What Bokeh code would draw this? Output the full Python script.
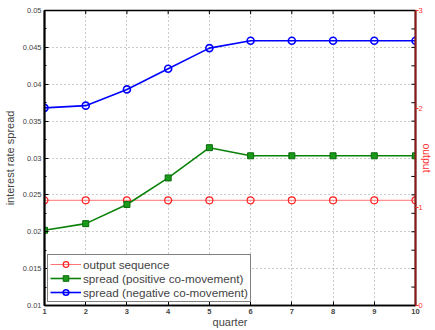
from bokeh.plotting import figure
from bokeh.models import (Range1d, LinearAxis, SingleIntervalTicker, FixedTicker,
                          CustomJSTickFormatter, Legend, LegendItem)
from bokeh.embed import file_html
from bokeh.resources import INLINE
import numpy as np

# quarters on the horizontal axis
quarters = [1, 2, 3, 4, 5, 6, 7, 8, 9, 10]
# output path (plotted against the right-hand "output" axis)
output_seq = [1.07, 1.07, 1.07, 1.07, 1.07, 1.07, 1.07, 1.07, 1.07, 1.07]
# interest rate spread under the two co-movement cases
spread_pos = [0.0202, 0.0211, 0.0237, 0.0273, 0.0314, 0.0303, 0.0303, 0.0303, 0.0303, 0.0303]
spread_neg = [0.0368, 0.0371, 0.0393, 0.0421, 0.0449, 0.0459, 0.0459, 0.0459, 0.0459, 0.0459]

FONT = "Liberation Sans"

p = figure(width=435, height=330, output_backend="svg", toolbar_location=None,
           x_range=Range1d(1, 10), y_range=Range1d(0.01, 0.05),
           min_border_left=43, min_border_right=17, min_border_top=10, min_border_bottom=24)
p.outline_line_color = "black"
p.outline_line_width = 1.5
p.background_fill_color = "white"
p.border_fill_color = "white"
p.extra_y_ranges = {"out": Range1d(0, 3)}

# bottom axis
xa = p.xaxis[0]
xa.ticker = FixedTicker(ticks=quarters)
xa.axis_label = "quarter"
xa.axis_label_text_font = FONT
xa.axis_label_text_font_style = "normal"
xa.axis_label_text_font_size = "11px"
xa.axis_label_standoff = -1
xa.major_label_text_font = FONT
xa.major_label_text_font_size = "7.5px"
xa.major_label_text_font_style = "bold"
xa.major_label_standoff = 3
xa.major_tick_in = 4
xa.major_tick_out = 0
xa.minor_tick_line_color = None
xa.axis_line_width = 1.5

# left axis
ya = p.yaxis[0]
ya.ticker = SingleIntervalTicker(interval=0.005, num_minor_ticks=2)
ya.formatter = CustomJSTickFormatter(code="return String(+tick.toFixed(4));")
ya.axis_label = "interest rate spread"
ya.axis_label_text_font = FONT
ya.axis_label_text_font_style = "normal"
ya.axis_label_text_font_size = "11px"
ya.axis_label_standoff = 4
ya.major_label_text_font = FONT
ya.major_label_text_font_size = "7.5px"
ya.major_label_text_color = "#444444"
ya.major_label_standoff = 3
ya.major_tick_in = 4
ya.major_tick_out = 0
ya.minor_tick_in = 2
ya.minor_tick_out = 0
ya.axis_line_width = 2

# right axis for output
ra = LinearAxis(y_range_name="out", ticker=FixedTicker(ticks=[0, 1, 2, 3]),
                axis_label="output")
ra.axis_label_text_color = "#ff3030"
ra.axis_label_text_font = FONT
ra.axis_label_text_font_style = "normal"
ra.axis_label_text_font_size = "10.5px"
ra.axis_label_standoff = -5
ra.major_label_text_color = "#ff3030"
ra.major_label_text_font = FONT
ra.major_label_text_font_size = "7.5px"
ra.major_label_standoff = 0
ra.major_tick_line_color = "#ff3030"
ra.major_tick_in = 0
ra.major_tick_out = 3
ra.minor_tick_line_color = None
ra.axis_line_color = "#8b1a1a"
ra.axis_line_width = 2
p.add_layout(ra, "right")

# inward ticks on the top edge and mirrored on the right edge of the frame
p.segment(x0=quarters, y0=[0.05] * len(quarters), x1=quarters,
          y1=[0.05 - 0.0005] * len(quarters), line_color="black", line_width=1)
rt = np.arange(0.0125, 0.05, 0.0025)
p.segment(x0=[10 - 0.1] * len(rt), y0=rt, x1=[10] * len(rt), y1=rt,
          line_color="black", line_width=1)

# dotted grid
p.xgrid.ticker = FixedTicker(ticks=quarters)
p.xgrid.grid_line_color = "#999999"
p.xgrid.grid_line_dash = "1 3"
p.ygrid.grid_line_color = "#999999"
p.ygrid.grid_line_dash = "1 3"

# series
r_out_l = p.line(quarters, output_seq, y_range_name="out", line_color="#ff5050",
                 line_width=1, line_alpha=0.8)
r_out_m = p.scatter(quarters, output_seq, y_range_name="out", marker="circle", size=7,
                    fill_color=None, line_color="#ff2020", line_width=1.2)
r_pos_l = p.line(quarters, spread_pos, line_color="#0a820a", line_width=1.6)
r_pos_m = p.scatter(quarters, spread_pos, marker="square", size=6,
                    fill_color="#1a9a1a", line_color="#0a6a0a", line_width=1)
r_neg_l = p.line(quarters, spread_neg, line_color="#0000ff", line_width=1.6)
r_neg_m = p.scatter(quarters, spread_neg, marker="circle", size=7,
                    fill_color=None, line_color="#0000ff", line_width=1.6)

legend = Legend(items=[
    LegendItem(label="output sequence", renderers=[r_out_l, r_out_m]),
    LegendItem(label="spread (positive co-movement)", renderers=[r_pos_l, r_pos_m]),
    LegendItem(label="spread (negative co-movement)", renderers=[r_neg_l, r_neg_m]),
], location="bottom_left")
legend.margin = 3
legend.padding = 2
legend.spacing = 0
legend.label_text_font = FONT
legend.label_text_font_size = "11.7px"
legend.label_height = 14
legend.glyph_height = 14
legend.glyph_width = 31
legend.label_standoff = 2
legend.border_line_color = "black"
legend.border_line_width = 1.2
legend.background_fill_color = "white"
legend.background_fill_alpha = 1
p.add_layout(legend, "center")

open("out.html", "w").write(file_html(p, INLINE))
